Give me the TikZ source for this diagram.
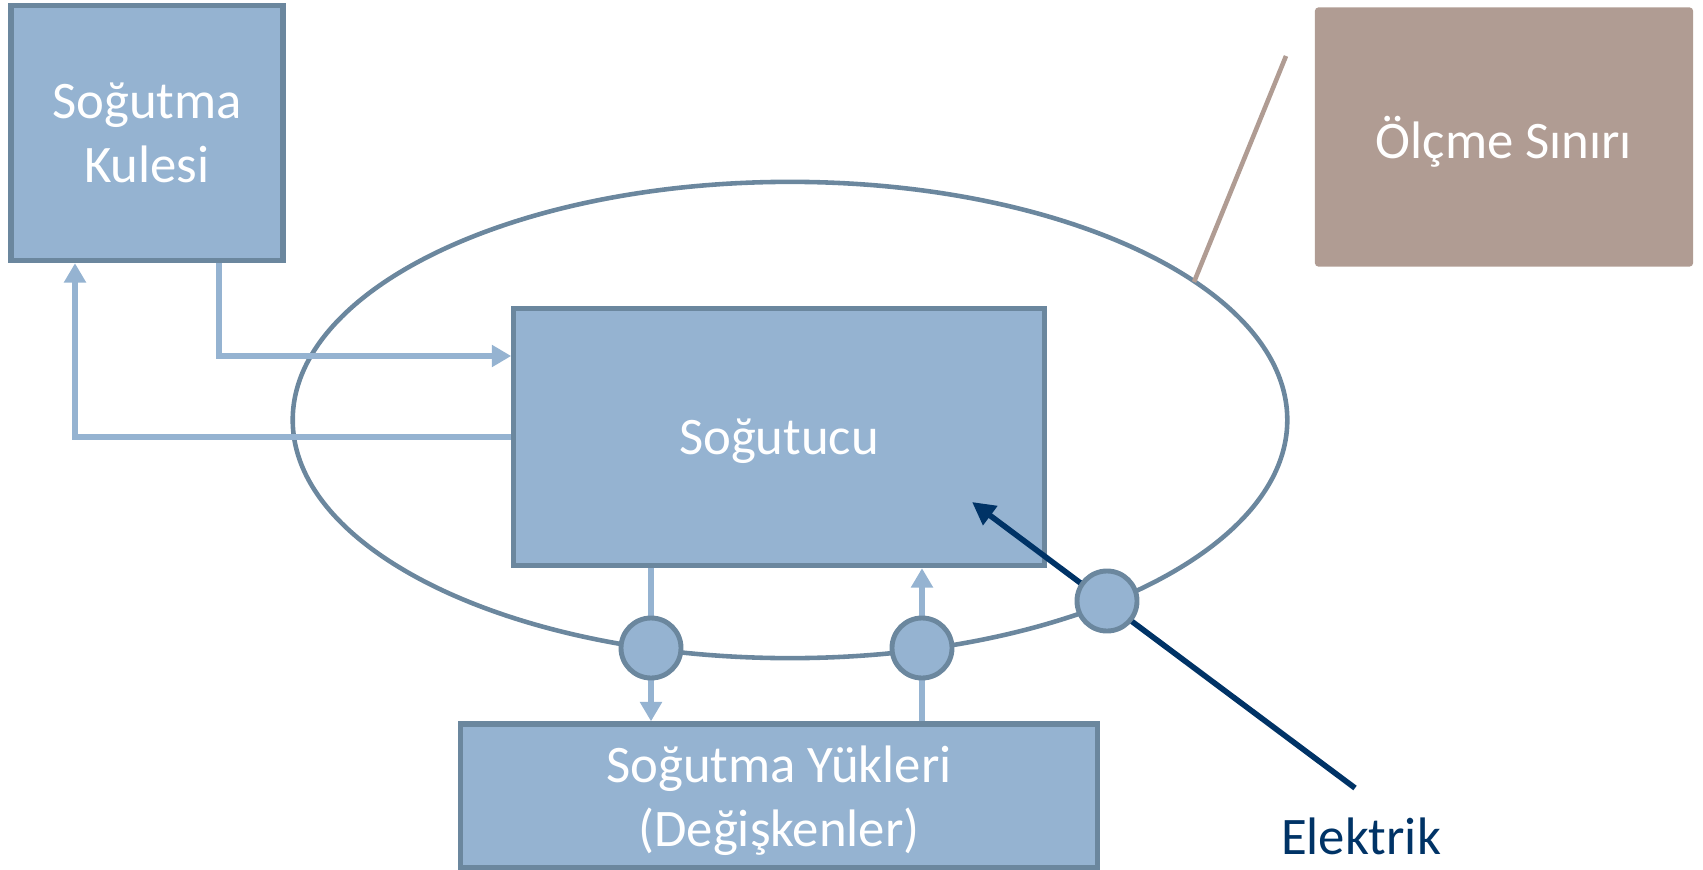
\documentclass[tikz,border=0pt]{standalone}
\usepackage{fontspec}
\setmainfont{Carlito}
\usetikzlibrary{arrows.meta,calc}
\definecolor{mavi}{HTML}{95B3D1}
\definecolor{kenar}{HTML}{6B879E}
\definecolor{lacivert}{HTML}{003366}
\definecolor{toprak}{HTML}{B09C93}
\begin{document}
\begin{tikzpicture}[x=0.01cm,y=-0.01cm,font=\fontsize{15}{18.3}\selectfont,
  kutu/.style={draw=kenar,fill=mavi,line width=1.5pt,text=white,align=center,inner sep=0pt,text depth=0pt},
  akis/.style={draw=mavi,line width=1.7pt,-{Triangle[length=5.5pt,width=6pt]}},
  olcer/.style={circle,draw=kenar,fill=mavi,line width=1.4pt,minimum size=0.6cm,inner sep=0pt}]
  \useasboundingbox (0,0) rectangle (1703,870);
  \draw[kenar,line width=1.3pt] (790,420) ellipse [x radius=4.97cm,y radius=2.38cm];
  \coordinate (temas) at (1194,282);
  \coordinate (cizgi) at (1286,56);
  \draw[toprak,line width=1.3pt] (temas) -- (cizgi);
  \node[kutu,minimum width=2.72cm,minimum height=2.55cm] (kule) at (147,133) {Soğutma\\Kulesi};
  \node[kutu,minimum width=5.30cm,minimum height=2.57cm] (sogutucu) at (779,437) {Soğutucu};
  \node[kutu,minimum width=6.37cm,minimum height=1.44cm] (yuk) at (779,796) {Soğutma Yükleri\\(Değişkenler)};
  \node[fill=toprak,rounded corners=1pt,minimum width=3.78cm,minimum height=2.59cm,text=white,text depth=0pt] (sinir) at (1504,137) {Ölçme Sınırı};
  \coordinate (giris) at (651,648);
  \coordinate (donus) at (922,648);
  \coordinate (sayac) at (1107,601);
  \draw[akis] ($(kule.south)+(72,0)$) |- ($(sogutucu.west)+(0,-81)$);
  \draw[akis] (sogutucu.west) -| ($(kule.south)+(-72,0)$);
  \draw[akis] (sogutucu.south -| giris) -- (yuk.north -| giris);
  \draw[akis] (yuk.north -| donus) -- (sogutucu.south -| donus);
  \coordinate (kablo) at (1355,788);
  \coordinate (uc) at (972,502);
  \draw[lacivert,line width=1.6pt,-{Triangle[length=6.5pt,width=6.5pt]}] (kablo) -- (uc);
  \node[olcer] (g) at (giris) {};
  \node[olcer] (d) at (donus) {};
  \node[olcer] (s) at (sayac) {};
  \node[text=lacivert] (elektrik) at (1361,836) {Elektrik};
\end{tikzpicture}
\end{document}
